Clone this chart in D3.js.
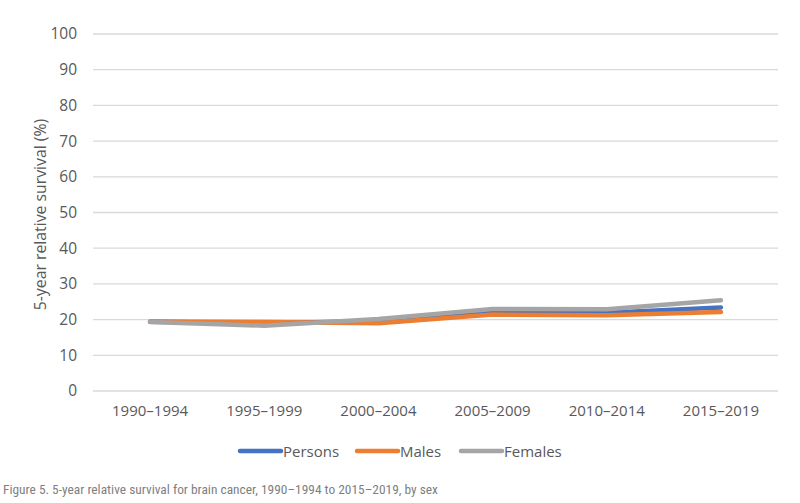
<!DOCTYPE html>
<html><head><meta charset="utf-8">
<script src="https://cdn.jsdelivr.net/npm/d3@7"></script>
<style>body{margin:0;background:#fff;} svg{display:block;}</style>
</head><body>
<svg id="chart" width="800" height="503"></svg>
<script>
const categories = ["1990–1994","1995–1999","2000–2004","2005–2009","2010–2014","2015–2019"];
const persons = [19.4, 19.0, 19.6, 22.0, 21.9, 23.4];
const males   = [19.5, 19.3, 19.0, 21.4, 21.2, 22.1];
const females = [19.3, 18.3, 20.2, 23.0, 22.9, 25.4];
const seriesNames = ["Persons","Males","Females"];
const seriesColors = ["#4472C4","#ED7D31","#A5A5A5"];
const yTicks = [0,10,20,30,40,50,60,70,80,90,100];
const yTitle = "5-year relative survival (%)";
const caption = "Figure 5. 5-year relative survival for brain cancer, 1990–1994 to 2015–2019, by sex";

(function(){
const series = [persons, males, females];
const svg = d3.select("#chart");
const font = "'Open Sans', 'Noto Sans', sans-serif";
const mLeft = 93, mRight = 778, mTop = 34, mBottom = 391;

const x = d3.scaleBand().domain(categories).range([mLeft, mRight]);
const y = d3.scaleLinear().domain([0,100]).range([mBottom, mTop]);

svg.append("g").selectAll("line").data(yTicks).join("line")
  .attr("x1", mLeft).attr("x2", mRight)
  .attr("y1", d => y(d)).attr("y2", d => y(d))
  .attr("stroke", "#D9D9D9").attr("stroke-width", 1.3);

const yAxis = svg.append("g").attr("transform", `translate(${mLeft},0)`)
  .call(d3.axisLeft(y).tickValues(yTicks).tickSize(0).tickPadding(16));
yAxis.select(".domain").remove();
yAxis.selectAll("text").attr("font-family", font).attr("font-size", 15.5).attr("fill", "#595959");

const xAxis = svg.append("g").attr("transform", `translate(0,${mBottom})`)
  .call(d3.axisBottom(x).tickSize(0).tickPadding(14));
xAxis.select(".domain").remove();
xAxis.selectAll("text").attr("font-family", font).attr("font-size", 15).attr("fill", "#595959");

svg.append("text")
  .attr("transform", `translate(46,${(mTop+mBottom)/2 + 2}) rotate(-90)`)
  .attr("text-anchor", "middle")
  .attr("font-family", font).attr("font-size", 15.8).attr("fill", "#595959")
  .text(yTitle);

const line = d3.line()
  .x((d,i) => x(categories[i]) + x.bandwidth()/2)
  .y(d => y(d));
svg.append("g").selectAll("path").data(series).join("path")
  .attr("d", d => line(d))
  .attr("fill", "none")
  .attr("stroke", (d,i) => seriesColors[i])
  .attr("stroke-width", 4.5)
  .attr("stroke-linecap", "round")
  .attr("stroke-linejoin", "round");

const legendX = [240, 357, 461];
const lg = svg.append("g");
seriesNames.forEach((n,i) => {
  const g = lg.append("g").attr("transform", `translate(${legendX[i]},451)`);
  g.append("line").attr("x1",0).attr("x2",41).attr("y1",0).attr("y2",0)
    .attr("stroke", seriesColors[i]).attr("stroke-width", 4.5).attr("stroke-linecap","round");
  g.append("text").attr("x", 43).attr("y", 5.5)
    .attr("font-family", font).attr("font-size", 15).attr("fill", "#595959").text(n);
});

svg.append("text").attr("x", 3).attr("y", 494)
  .attr("font-family", "'Liberation Sans Narrow', 'Roboto Condensed', 'Liberation Sans', sans-serif")
  .attr("font-size", 13.4).attr("fill", "#7F7F7F")
  .text(caption);
})();
</script>
</body></html>
